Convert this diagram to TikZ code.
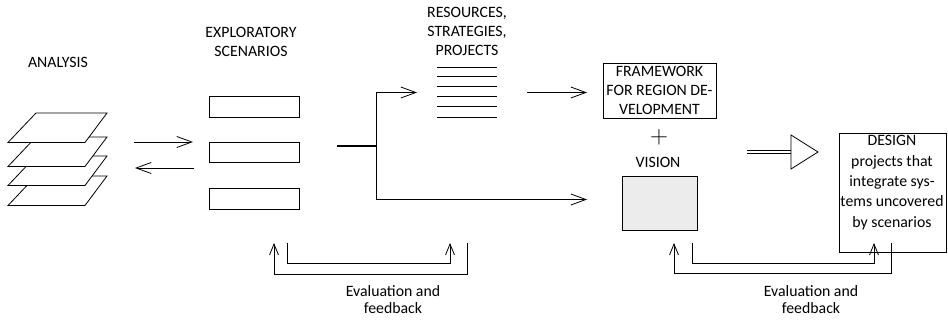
\documentclass[tikz,border=0pt]{standalone}
\usepackage{fontspec}
\setmainfont{Carlito}
\usetikzlibrary{arrows.meta}
\begin{document}
\begin{tikzpicture}[x=1pt,y=-1pt,line width=0.8pt,
    lbl/.style={inner sep=0pt,align=center,font=\fontsize{15.8}{19}\selectfont},
    evl/.style={lbl,font=\fontsize{15.8}{17}\selectfont},
    box/.style={draw,inner sep=0pt,minimum width=90pt,minimum height=20.5pt},
    barb/.style={-{Straight Barb[length=15pt,width=11pt]}},
    upbarb/.style={-{Straight Barb[length=11pt,width=9pt]}}]
  \useasboundingbox (0,0) rectangle (948,320);
  % analysis
  \node[lbl] (analysis) at (58,62) {ANALYSIS};
  \foreach \y in {176,156,137,113}
    \draw[fill=white] (36,\y) -- (107,\y) -- (85,\y+29.5) -- (8,\y+29.5) -- cycle;
  % scenarios
  \node[lbl,anchor=north] (expl) at (251,27) {EXPLORATORY\\SCENARIOS};
  \node[box] (s1) at (254,107) {};
  \node[box] (s2) at (254,152.5) {};
  \node[box] (s3) at (254,199) {};
  \coordinate (fwd1) at (134,142);
  \coordinate (fwd2) at (193,142);
  \coordinate (back1) at (194,168);
  \coordinate (back2) at (135,168);
  \draw[barb] (fwd1) -- (fwd2);
  \draw[barb] (back1) -- (back2);
  % branching
  \coordinate (stem) at (337,146);
  \coordinate (fork) at (376,146);
  \coordinate (resin) at (417,92.5);
  \coordinate (visin) at (587,199.5);
  \draw[line width=1.6pt] (stem) -- (fork);
  \draw[barb] (fork) |- (resin);
  \draw[barb] (fork) |- (visin);
  % resources
  \node[lbl,anchor=north] (res) at (467,7) {RESOURCES,\\STRATEGIES,\\PROJECTS};
  \foreach \y in {67,76.5,86.7,96.7,106.7,117.3}
    \draw (437,\y) -- (497,\y);
  \coordinate (resout) at (527,92.5);
  \coordinate (framein) at (587,92.5);
  \draw[barb] (resout) -- (framein);
  % framework + vision
  \node[lbl,draw,minimum width=113pt,minimum height=55pt] (frame) at (659.5,90.5)
    {FRAMEWORK\\FOR REGION DE-\\VELOPMENT};
  \node[inner sep=0pt] (plus) at (659,137.5) {\fontsize{26}{26}\selectfont$+$};
  \node[lbl,anchor=north] (vision) at (658,157) {VISION};
  \node[draw,fill=gray!15,inner sep=0pt,minimum width=75pt,minimum height=54pt] (vbox) at (659.5,203) {};
  % design
  \coordinate (hstart) at (747,152);
  \coordinate (hbase) at (791,152);
  \draw[double,double distance=1.6pt] (hstart) -- (hbase);
  \draw (791,135) -- (818,152) -- (791,169) -- cycle;
  \node[draw,inner sep=0pt,minimum width=107pt,minimum height=119pt] (design) at (892.5,192.5) {};
  \node[lbl,anchor=north,font=\fontsize{15.8}{20.4}\selectfont] (dtext) at (892,135)
    {DESIGN\\projects that\\integrate sys-\\tems uncovered\\by scenarios};
  % feedback loops
  \coordinate (l1s) at (467,243);
  \coordinate (l1e) at (274,243);
  \coordinate (l2s) at (287,243);
  \coordinate (l2e) at (450,243);
  \coordinate (r1s) at (891,243);
  \coordinate (r1e) at (674,243);
  \coordinate (r2s) at (692,243);
  \coordinate (r2e) at (874,243);
  \draw[upbarb] (l1s) -- ++(0,31) -| (l1e);
  \draw[upbarb] (l2s) -- ++(0,20) -| (l2e);
  \draw[upbarb] (r1s) -- ++(0,30) -| (r1e);
  \draw[upbarb] (r2s) -- ++(0,20) -| (r2e);
  \node[evl,anchor=north] (eval1) at (393,285) {Evaluation and\\feedback};
  \node[evl,anchor=north] (eval2) at (811,285) {Evaluation and\\feedback};
\end{tikzpicture}
\end{document}
